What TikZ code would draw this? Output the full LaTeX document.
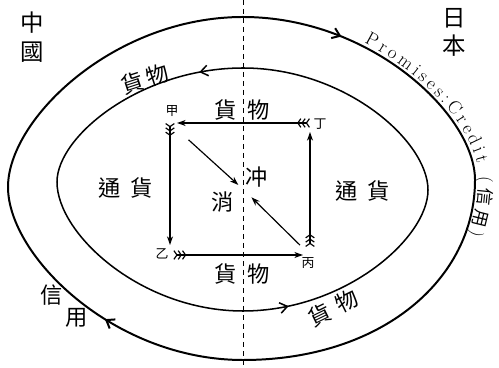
\documentclass[tikz,border=0pt]{standalone}
\usepackage{fontspec}
\newfontfamily\cjk{Noto Sans CJK TC}
\usetikzlibrary{arrows.meta,positioning,decorations.markings,decorations.text}
\tikzset{
  feather/.tip={Straight Barb[reversed,length=0.9mm,width=2.6mm]Straight Barb[reversed,length=0.9mm,width=2.6mm]Straight Barb[reversed,length=0.9mm,width=2.6mm]},
  head/.tip={Stealth[length=2.6mm,width=1.8mm]},
  barb/.tip={Straight Barb[length=2.2mm,width=3.2mm]}
}

\begin{document}
\begin{tikzpicture}[
  x=0.3mm,y=0.3mm,
  big/.style={font=\cjk\fontsize{19}{20}\selectfont,inner sep=0pt},
  country/.style={font=\cjk\fontsize{20}{21}\selectfont,inner sep=0pt},
  corner/.style={font=\cjk\fontsize{11}{12}\selectfont,inner sep=0pt},
  fletch/.style={line width=1pt,feather-head},
  arrow/.style={line width=1pt,-head},
  divide/.style={line width=0.8pt,dash pattern=on 1.5mm off 1.2mm},
  outer/.style={line width=1.7pt,postaction={decorate,decoration={markings,
    mark=at position 0.08 with {\arrow{barb}},
    mark=at position 0.617 with {\arrow{barb}}}}},
  inner/.style={line width=1.3pt,postaction={decorate,decoration={markings,
    mark=at position 0.451 with {\arrowreversed{barb}},
    mark=at position 0.954 with {\arrowreversed{barb}}}}}
]
\path[use as bounding box,fill=white] (0,0) rectangle (499,368);

\coordinate (ntop) at (243,368);
\coordinate (nbot) at (243,0);
\draw[divide] (ntop) -- (nbot);

\draw[outer] (243,351) .. controls (371,351) and (475,253) .. (475,188)
  .. controls (475,89) and (382,8) .. (243,8)
  .. controls (114,8) and (8,112) .. (8,181)
  .. controls (8,249) and (114,351) .. (243,351) -- cycle;
\draw[inner] (243,300) .. controls (345,300) and (428,227) .. (428,178)
  .. controls (428,130) and (345,57) .. (243,57)
  .. controls (141,57) and (57,134) .. (57,186)
  .. controls (57,232) and (141,300) .. (243,300) -- cycle;

\path[decorate,decoration={text along path,text align={fit to path},
  text={|\fontsize{16}{17}\selectfont|Promises:Credit (|\cjk\fontsize{15}{16}\selectfont|信用|\rmfamily\fontsize{16}{17}\selectfont|)}}]
  (364,325) .. controls (434.2,288.6) and (479,230.9) .. (479,188)
  .. controls (479,169) and (475.6,150.6) .. (469,133.2);

\coordinate (cA) at (170,245);
\coordinate (cD) at (310,245);
\coordinate (cC) at (310,113);
\coordinate (cB) at (170,113);
\coordinate (mid) at (245,177);

\node[corner] (jia) at (172,257) {甲};
\node[corner] (ding) at (320,244) {丁};
\node[corner] (bing) at (308,105) {丙};
\node[corner] (yi) at (162,114) {乙};

\draw[fletch,shorten >=2.1mm] (cD) -- (cA);
\draw[fletch,shorten >=3mm] (cA) -- (cB);
\draw[fletch,shorten <=1mm,shorten >=2.1mm] (cB) -- (cC);
\draw[fletch,shorten <=2.4mm,shorten >=2.7mm] (cC) -- (cD);
\draw[arrow,shorten <=7.5mm,shorten >=2.7mm] (cA) -- (mid);
\draw[arrow,shorten <=4.2mm,shorten >=2.7mm] (cC) -- (mid);

\node[big] (gtop) at (242,258) {貨\hspace{0.5em}物};
\node[big] (gbot) at (242,94) {貨\hspace{0.5em}物};
\node[big] (chong) at (257,191) {冲};
\node[big] (xiao) at (223,166) {消};
\node[big] (tleft) at (126,180) {通\hspace{0.45em}貨};
\node[big] (tright) at (363,177) {通\hspace{0.45em}貨};

\node[country] (zhong) at (32,345) {中};
\node[country,below=2.4mm of zhong] (guo) {國};
\node[country] (ri) at (454,350) {日};
\node[country,below=2.1mm of ri] (ben) {本};

\node[big,rotate=18] (gup) at (145,289) {貨\hspace{0.2em}物};
\node[big,rotate=26] (gdown) at (333,60) {貨\hspace{0.35em}物};
\node[big] (xin) at (52,73) {信};
\node[big] (yong) at (77,50) {用};
\end{tikzpicture}
\end{document}
